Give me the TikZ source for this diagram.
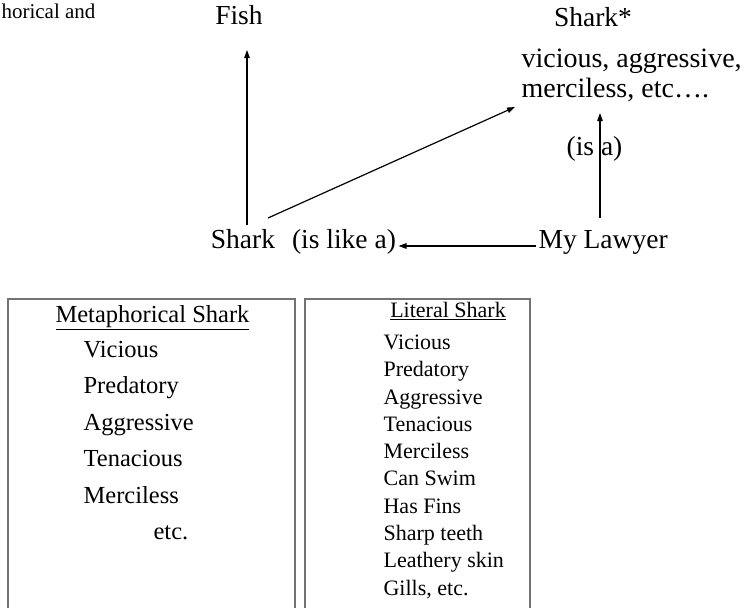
\documentclass[tikz,border=0pt]{standalone}
\usepackage{fontspec}
\setmainfont{Liberation Serif}
\usetikzlibrary{arrows.meta,positioning}

\begin{document}
\begin{tikzpicture}[x=1pt,y=-1pt,line width=1.2pt,
    every node/.style={inner sep=2pt,text height=0.7em,text depth=0.22em},
    >={Triangle[length=8pt,width=5.5pt]},
    toptext/.style={font=\fontsize{27.5}{30}\selectfont},
    metaitem/.style={font=\fontsize{24.5}{28}\selectfont,anchor=west},
    lititem/.style={font=\fontsize{22}{26}\selectfont,anchor=west},
    boxline/.style={draw=black!55,line width=1.6pt}]
  \useasboundingbox (0,0) rectangle (750,608);
  % cut caption
  \node[font=\fontsize{21}{24}\selectfont,anchor=east] (caption) at (98,16) {horical and};
  % upper diagram
  \node[toptext] (fish) at (239,22) {Fish};
  \node[toptext] (sharkstar) at (593,24) {Shark*};
  \node[toptext,font=\fontsize{28}{30}\selectfont,anchor=west,align=left,
    text height=,text depth=] (traits) at (519,75)
    {vicious, aggressive,\\merciless, etc\dots.};
  \node[toptext] (shark) at (243,246) {Shark};
  \node[toptext] (islike) at (344,246) {(is like a)};
  \node[toptext,anchor=west] (lawyer) at (536,246) {My Lawyer};
  \node[toptext] (isa) at (594.5,153) {(is a)};
  \coordinate (fishbot) at (247,225);
  \coordinate (fishtop) at (247,50);
  \coordinate (diagbot) at (268,218);
  \coordinate (diagtop) at (515,107);
  \coordinate (isabot) at (600,218);
  \coordinate (isatop) at (600,113);
  \draw[->] (fishbot) -- (fishtop);
  \draw[->] (diagbot) -- (diagtop);
  \draw[->] (isabot) -- (isatop);
  \draw[->] (lawyer.west) -- (islike.east);
  % boxes
  \draw[boxline] (8,299) rectangle (295,625);
  \draw[boxline] (305,299) rectangle (530,625);
  \node[metaitem,anchor=center] (metahead) at (152.5,320) {\underline{Metaphorical Shark}};
  \foreach \t [count=\i from 0] in {Vicious,Predatory,Aggressive,Tenacious,Merciless}
    \node[metaitem] (meta-\i) at (81,355+36.4*\i) {\t};
  \node[metaitem] (meta-etc) at (151,537) {etc.};
  \node[lititem,anchor=center] (lithead) at (448,315) {\underline{Literal Shark}};
  \foreach \t [count=\i from 0] in {Vicious,Predatory,Aggressive,Tenacious,Merciless,
      Can Swim,Has Fins,Sharp teeth,Leathery skin,{Gills, etc.}}
    \node[lititem] (lit-\i) at (381,347+27.3*\i) {\t};
\end{tikzpicture}
\end{document}
